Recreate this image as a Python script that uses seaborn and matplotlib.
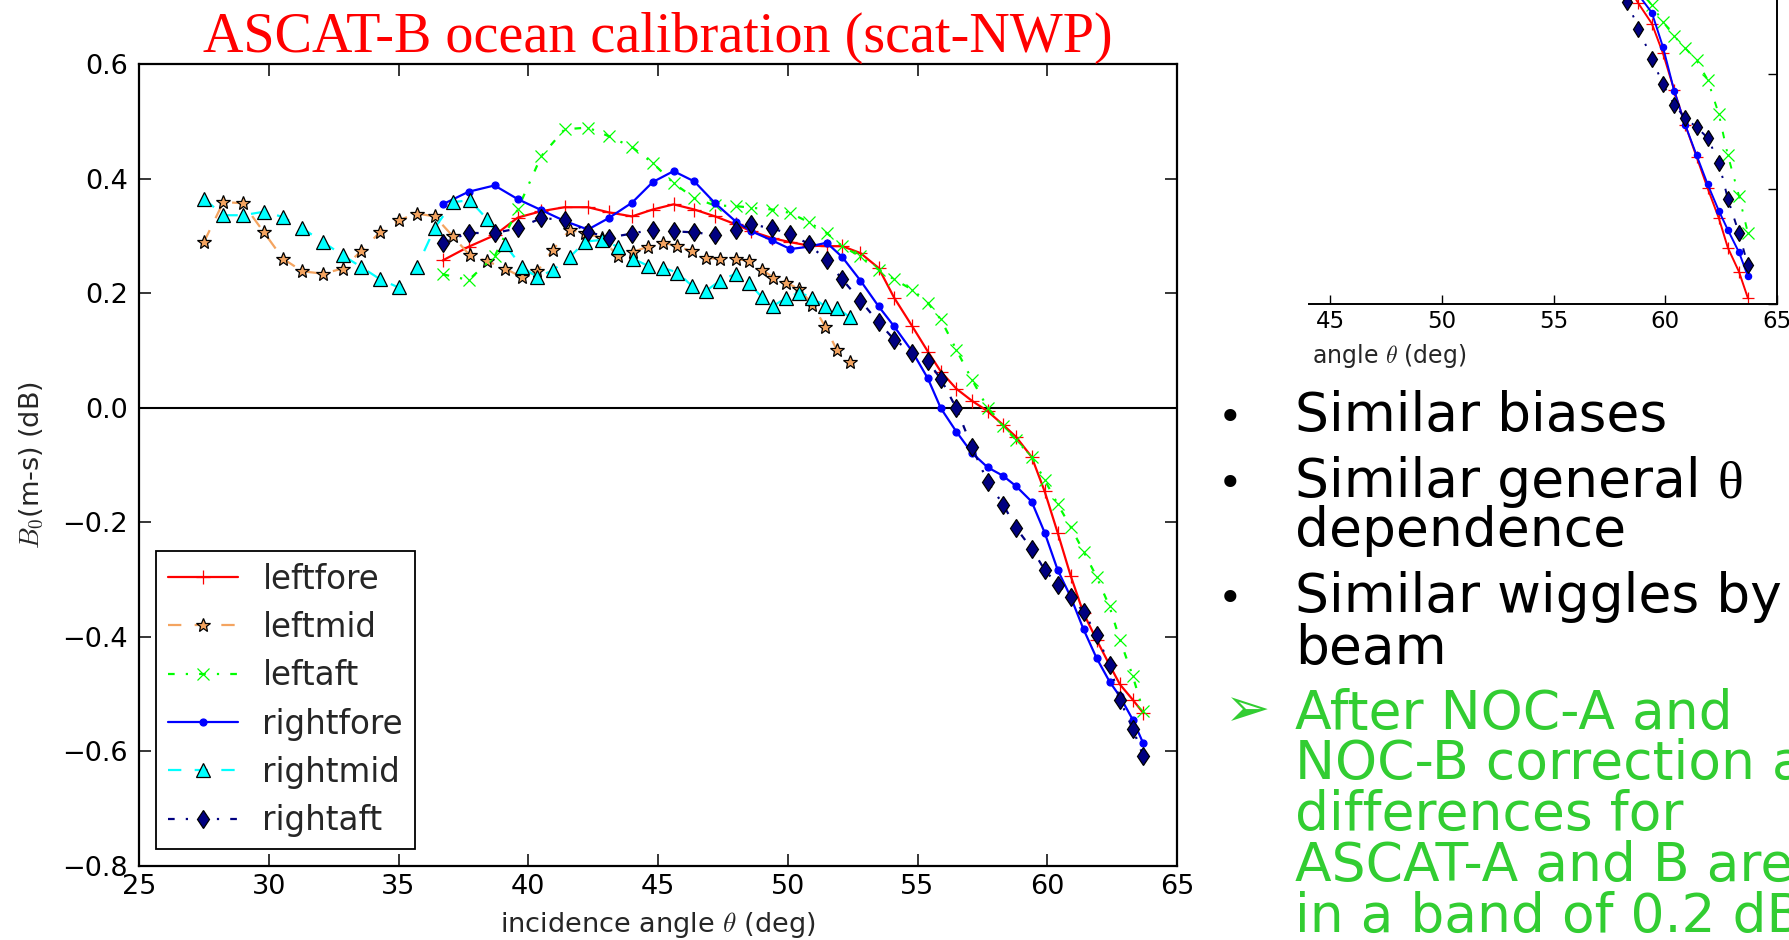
import matplotlib
matplotlib.use("Agg")
import matplotlib.pyplot as plt
import seaborn as sns
from matplotlib.ticker import FuncFormatter

# ---- data ----
# incidence angles (deg) of the fore / aft beam cells
theta_fa = [36.7, 37.7, 38.7, 39.6, 40.5, 41.4, 42.3, 43.1, 44.0, 44.8,
            45.6, 46.4, 47.2, 48.0, 48.6, 49.4, 50.1, 50.8, 51.5, 52.1,
            52.8, 53.5, 54.1, 54.8, 55.4, 55.9, 56.5, 57.1, 57.7, 58.3,
            58.8, 59.4, 59.9, 60.4, 60.9, 61.4, 61.9, 62.4, 62.8, 63.3, 63.7]
# incidence angles (deg) of the mid beam cells
theta_mid = [27.5, 28.25, 29.0, 29.8, 30.55, 31.3, 32.1, 32.85, 33.55, 34.3,
             35.0, 35.7, 36.4, 37.1, 37.75, 38.4, 39.1, 39.75, 40.35, 40.95,
             41.6, 42.2, 42.85, 43.45, 44.05, 44.6, 45.2, 45.75, 46.3, 46.85,
             47.4, 48.0, 48.5, 49.0, 49.45, 49.95, 50.45, 50.95, 51.45, 51.9, 52.4]

leftfore = [0.257, 0.281, 0.301, 0.332, 0.343, 0.350, 0.350, 0.341, 0.334, 0.346,
            0.355, 0.346, 0.334, 0.320, 0.308, 0.296, 0.289, 0.283, 0.282, 0.282,
            0.270, 0.244, 0.192, 0.142, 0.098, 0.063, 0.033, 0.012, -0.006, -0.030,
            -0.051, -0.086, -0.146, -0.218, -0.293, -0.359, -0.405, -0.449, -0.483,
            -0.510, -0.533]
leftmid = [0.289, 0.359, 0.357, 0.307, 0.260, 0.238, 0.234, 0.243, 0.273, 0.307,
           0.327, 0.339, 0.334, 0.299, 0.266, 0.256, 0.243, 0.228, 0.238, 0.276,
           0.310, 0.305, 0.296, 0.264, 0.272, 0.281, 0.288, 0.282, 0.273, 0.261,
           0.260, 0.260, 0.256, 0.241, 0.227, 0.218, 0.207, 0.180, 0.141, 0.100, 0.080]
leftaft = [0.233, 0.223, 0.264, 0.347, 0.439, 0.486, 0.489, 0.474, 0.455, 0.427,
           0.392, 0.366, 0.353, 0.352, 0.349, 0.346, 0.340, 0.324, 0.305, 0.282,
           0.264, 0.241, 0.224, 0.206, 0.183, 0.154, 0.101, 0.049, 0.000, -0.032,
           -0.056, -0.086, -0.126, -0.168, -0.208, -0.251, -0.295, -0.347, -0.405,
           -0.469, -0.530]
rightfore = [0.355, 0.377, 0.388, 0.364, 0.345, 0.326, 0.311, 0.331, 0.358, 0.394,
             0.413, 0.395, 0.357, 0.325, 0.308, 0.292, 0.277, 0.281, 0.288, 0.263,
             0.222, 0.177, 0.142, 0.098, 0.051, -0.001, -0.042, -0.079, -0.104, -0.119,
             -0.137, -0.164, -0.218, -0.283, -0.330, -0.387, -0.437, -0.478, -0.504,
             -0.545, -0.586]
rightmid = [0.365, 0.336, 0.336, 0.342, 0.333, 0.313, 0.289, 0.266, 0.246, 0.224,
            0.210, 0.245, 0.314, 0.359, 0.362, 0.330, 0.285, 0.246, 0.228, 0.240,
            0.263, 0.290, 0.293, 0.281, 0.260, 0.248, 0.244, 0.236, 0.213, 0.204,
            0.222, 0.234, 0.218, 0.193, 0.178, 0.192, 0.201, 0.192, 0.177, 0.174, 0.158]
rightaft = [0.288, 0.305, 0.305, 0.313, 0.331, 0.328, 0.307, 0.297, 0.304, 0.311,
            0.308, 0.306, 0.302, 0.311, 0.320, 0.313, 0.303, 0.286, 0.257, 0.224,
            0.187, 0.149, 0.119, 0.096, 0.081, 0.050, -0.001, -0.069, -0.129, -0.169,
            -0.210, -0.246, -0.283, -0.309, -0.330, -0.356, -0.397, -0.449, -0.510,
            -0.561, -0.608]

# cropped panel in the top right corner (only its far-range end is visible)
theta_crop = [57.7, 58.3, 58.8, 59.4, 59.9, 60.4, 60.9, 61.4, 61.9, 62.4, 62.8, 63.3, 63.7]
crop_leftfore = [-0.22, -0.245, -0.277, -0.312, -0.364, -0.428, -0.489, -0.544,
                 -0.599, -0.651, -0.702, -0.744, -0.790]
crop_leftaft = [-0.19, -0.22, -0.25, -0.280, -0.309, -0.334, -0.355, -0.376,
                -0.410, -0.470, -0.541, -0.612, -0.677]
crop_rightfore = [-0.22, -0.24, -0.262, -0.293, -0.353, -0.429, -0.489, -0.541,
                  -0.592, -0.638, -0.671, -0.710, -0.752]
crop_rightaft = [-0.23, -0.274, -0.321, -0.373, -0.418, -0.453, -0.477, -0.492,
                 -0.511, -0.554, -0.617, -0.677, -0.733]

x_ticks = [25, 30, 35, 40, 45, 50, 55, 60, 65]
y_ticks = [-0.8, -0.6, -0.4, -0.2, 0.0, 0.2, 0.4, 0.6]
crop_xticks = [45, 50, 55, 60, 65]
crop_yticks = [-0.8, -0.6, -0.4]

black_lines = [("Similar biases", True), ("Similar general", True), ("dependence", False),
               ("Similar wiggles by", True), ("beam", False)]
green_lines = ["After NOC-A and", "NOC-B correction a", "differences for",
               "ASCAT-A and B are", "in a band of 0.2 dB"]

# ---- style ----
sns.set_style("ticks")
plt.rcParams['font.family'] = ['DejaVu Sans']
plt.rcParams['mathtext.fontset'] = 'cm'
plt.rcParams['lines.scale_dashes'] = False
plt.rcParams['axes.unicode_minus'] = True

W, H = 1789, 940


def rect(x0, y0, x1, y1):
    # pixel box (top-left origin) -> figure fraction
    return [x0 / W, 1 - y1 / H, (x1 - x0) / W, (y1 - y0) / H]


DASH = (0, (9.6, 9.6))
DASHDOT = (0, (4.8, 8.0, 1.6, 8.0))

# colour, marker, linestyle, edge colour, markersize
styles = {
    'leftfore': ('red', '+', '-', 'red', 10),
    'leftmid': ('sandybrown', '*', DASH, 'black', 10.5),
    'leftaft': ('lime', 'x', DASHDOT, 'lime', 9),
    'rightfore': ('blue', '.', '-', 'blue', 10),
    'rightmid': ('cyan', '^', DASH, 'black', 9.6),
    'rightaft': ('navy', 'd', DASHDOT, 'black', 9.5),
}


def draw(ax, x, y, name, lw=1.6, scale=1.0, label=True):
    c, m, ls, ec, ms = styles[name]
    sns.lineplot(x=x, y=y, ax=ax, label=name if label else None, color=c,
                 marker=m, linestyle=ls, linewidth=lw, markersize=ms * scale,
                 markerfacecolor=c, markeredgecolor=ec, markeredgewidth=0.9,
                 legend=False, errorbar=None)


fig = plt.figure(figsize=(W / 100, H / 100), dpi=100)
fig.patch.set_facecolor('white')

# ---- main chart ----
ax = fig.add_axes(rect(139, 64, 1177, 866))
ax.axhline(0, color='black', lw=1.5)
draw(ax, theta_fa, leftfore, 'leftfore')
draw(ax, theta_mid, leftmid, 'leftmid')
draw(ax, theta_fa, leftaft, 'leftaft')
draw(ax, theta_fa, rightfore, 'rightfore')
draw(ax, theta_mid, rightmid, 'rightmid')
draw(ax, theta_fa, rightaft, 'rightaft')

ax.set_xlim(25, 65)
ax.set_ylim(-0.8, 0.6)
ax.set_xticks(x_ticks)
ax.set_yticks(y_ticks)
ax.yaxis.set_major_formatter(FuncFormatter(lambda v, p: f"{v:.1f}".replace('-', '\u2212')))
ax.tick_params(direction='in', length=8.6, width=1.1, top=True, right=True,
               labelsize=19.5, colors='black')
ax.tick_params(axis='x', pad=5.5)
ax.tick_params(axis='y', pad=8)
for s in ax.spines.values():
    s.set_linewidth(1.6)
    s.set_color('black')

ax.set_title('ASCAT-B ocean calibration (scat-NWP)', color='red', fontsize=40.4,
             family='Liberation Serif', pad=9)
ax.set_xlabel(r'incidence angle $\theta$ (deg)', fontsize=19.5)
ax.xaxis.set_label_coords(0.5, -0.055)
ax.set_ylabel(r'$B_0$(m-s) (dB)', fontsize=19.5)
ax.yaxis.set_label_coords(-0.091, 0.5)

handles, labels = ax.get_legend_handles_labels()
leg = ax.legend(handles, labels, loc='lower left', bbox_to_anchor=(17 / 1038, 17 / 802),
                borderaxespad=0, fontsize=23.5, numpoints=1, handlelength=2.15,
                handletextpad=0.75, labelspacing=0.47, borderpad=0.36,
                frameon=True, fancybox=False, edgecolor='black', framealpha=1)
leg.get_frame().set_linewidth(1.3)

# ---- cropped panel, top right ----
axi = fig.add_axes(rect(1309, 0, 1777, 304))
draw(axi, theta_crop, crop_leftfore, 'leftfore', lw=1.4, scale=0.9, label=False)
draw(axi, theta_crop, crop_leftaft, 'leftaft', lw=1.4, scale=0.9, label=False)
draw(axi, theta_crop, crop_rightfore, 'rightfore', lw=1.4, scale=0.9, label=False)
draw(axi, theta_crop, crop_rightaft, 'rightaft', lw=1.4, scale=0.9, label=False)
axi.set_xlim(44.06, 65)
axi.set_ylim(-0.8, -0.271)
axi.set_xticks(crop_xticks)
axi.set_yticks(crop_yticks)
axi.set_yticklabels([])
axi.spines['left'].set_visible(False)
axi.spines['top'].set_visible(False)
for s in ('bottom', 'right'):
    axi.spines[s].set_linewidth(1.4)
    axi.spines[s].set_color('black')
axi.tick_params(direction='in', length=6.5, width=1, left=False, right=True,
                top=False, labelleft=False, labelsize=16.5, pad=4, colors='black')
axi.set_xlabel(r'angle $\theta$ (deg)', fontsize=17, ha='left')
axi.xaxis.set_label_coords(3 / 468, -0.125)

# ---- slide text ----
TXT = 38.5
x_text, x_bullet = 1295, 1230
black_base = [431, 497, 546, 612, 664]
green_base = [729, 779, 830, 881, 932]

general = None
for (txt, has_bullet), yb in zip(black_lines, black_base):
    t = fig.text(x_text / W, 1 - yb / H, txt, fontsize=TXT, color='black',
                 ha='left', va='baseline')
    if has_bullet:
        fig.text(x_bullet / W, 1 - yb / H, '\u2022', fontsize=30, color='black',
                 ha='center', va='baseline')
    if txt == "Similar general":
        general = t

for txt, yb in zip(green_lines, green_base):
    fig.text(x_text / W, 1 - yb / H, txt, fontsize=TXT, color='limegreen',
             ha='left', va='baseline')
fig.text(1225 / W, 1 - 711 / H, '\u27a2', fontsize=39, color='limegreen',
         ha='left', va='center')

fig.canvas.draw()
bb = general.get_window_extent()
fig.text((bb.x1 + 17) / W, 1 - black_base[1] / H, '\u03b8', fontsize=TXT,
         family='Liberation Serif', color='black', ha='left', va='baseline')

fig.savefig('out.png', dpi=100)
